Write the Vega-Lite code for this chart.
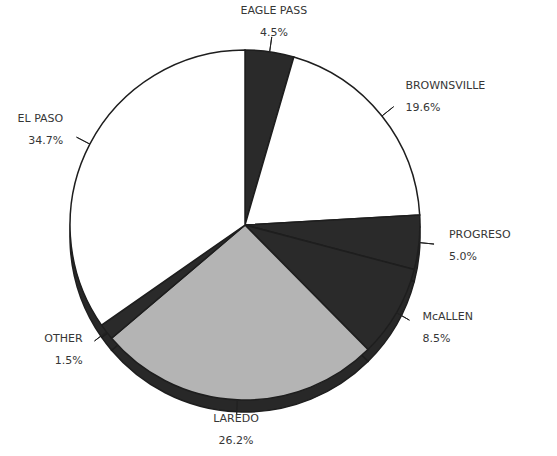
{
  "$schema": "https://vega.github.io/schema/vega-lite/v6.json",
  "width": 490,
  "height": 450,
  "autosize": "none",
  "padding": {"left": 0, "top": 0, "right": 67, "bottom": 6},
  "background": "#ffffff",
  "config": {"view": {"stroke": null}, "text": {"font": "DejaVu Sans"}},
  "data": {
    "values": [
      {"seq": 1, "city": "EAGLE PASS", "share": 0.045},
      {"seq": 2, "city": "BROWNSVILLE", "share": 0.196},
      {"seq": 3, "city": "PROGRESO", "share": 0.050},
      {"seq": 4, "city": "McALLEN", "share": 0.085},
      {"seq": 5, "city": "LAREDO", "share": 0.262},
      {"seq": 6, "city": "OTHER", "share": 0.015},
      {"seq": 7, "city": "EL PASO", "share": 0.347}
    ]
  },
  "encoding": {
    "theta": {"field": "share", "type": "quantitative", "stack": true},
    "order": {"field": "seq", "type": "quantitative"},
    "detail": {"field": "city", "type": "nominal"}
  },
  "layer": [
    {
      "mark": {"type": "arc", "outerRadius": 175, "yOffset": 12, "fill": "#282828", "stroke": "#1e1e1e", "strokeWidth": 1.5}
    },
    {
      "mark": {"type": "arc", "outerRadius": 175, "stroke": "#1e1e1e", "strokeWidth": 1.5},
      "encoding": {
        "fill": {
          "field": "city",
          "type": "nominal",
          "legend": null,
          "scale": {
            "domain": ["EAGLE PASS", "BROWNSVILLE", "PROGRESO", "McALLEN", "LAREDO", "OTHER", "EL PASO"],
            "range": ["#2a2a2a", "#ffffff", "#2a2a2a", "#2a2a2a", "#b4b4b4", "#2a2a2a", "#ffffff"]
          }
        }
      }
    },
    {
      "mark": {"type": "arc", "innerRadius": 175, "outerRadius": 190, "padAngle": 1.5, "fill": "transparent", "stroke": "#222222", "strokeWidth": 1}
    },
    {
      "mark": {
        "type": "text", "radius": 205, "dy": -11, "fontSize": 11, "fill": "#363636", "baseline": "middle",
        "align": {"expr": "indexof(['BROWNSVILLE','PROGRESO','McALLEN'], datum.city) >= 0 ? 'left' : (indexof(['EL PASO','OTHER'], datum.city) >= 0 ? 'right' : 'center')"}
      },
      "encoding": {"text": {"field": "city", "type": "nominal"}}
    },
    {
      "mark": {
        "type": "text", "radius": 205, "dy": 11, "fontSize": 11, "fill": "#363636", "baseline": "middle",
        "align": {"expr": "indexof(['BROWNSVILLE','PROGRESO','McALLEN'], datum.city) >= 0 ? 'left' : (indexof(['EL PASO','OTHER'], datum.city) >= 0 ? 'right' : 'center')"}
      },
      "encoding": {"text": {"field": "share", "type": "quantitative", "format": ".1%"}}
    }
  ]
}
